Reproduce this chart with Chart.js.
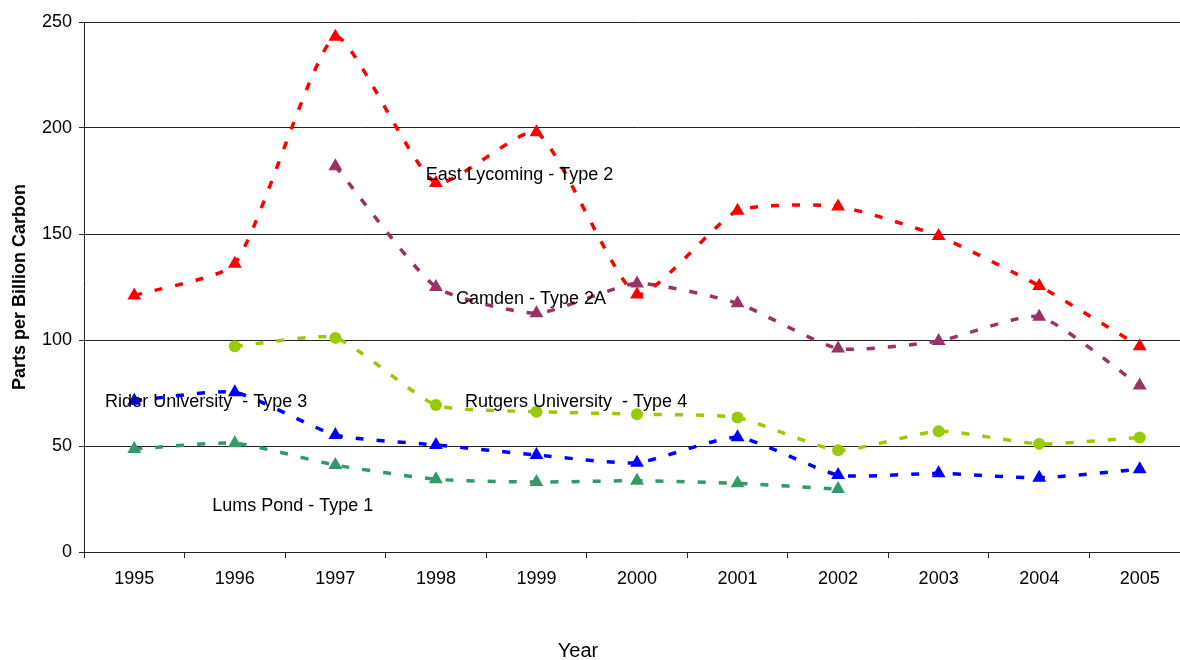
<!DOCTYPE html>
<html>
<head>
<meta charset="utf-8">
<script src="https://cdn.jsdelivr.net/npm/chart.js@4/dist/chart.umd.min.js"></script>
<style>
  html, body { margin: 0; padding: 0; background: #fff; overflow: hidden; }
  #chart { display: block; }
</style>
</head>
<body>
<canvas id="chart" width="1198" height="660"></canvas>
<script>
// values (ppbC)
const years = ['1995', '1996', '1997', '1998', '1999', '2000', '2001', '2002', '2003', '2004', '2005'];
const eastLycoming = [121, 136, 243, 174, 198, 121.5, 161, 163, 149, 125.5, 97];
const camden = [null, null, 182, 125, 112.6, 126.7, 117.3, 96, 99.5, 111, 78.5];
const rutgers = [null, 97, 101, 69.3, 66.2, 65, 63.4, 48, 57, 51, 54];
const rider = [71.4, 75.3, 55.2, 50.5, 45.8, 42.1, 54.1, 36.3, 37.1, 35, 39];
const lumsPond = [48.6, 51.3, 41, 34.3, 33, 33.6, 32.4, 29.7, null, null, null];
const yTicks = [0, 50, 100, 150, 200, 250];

// in-chart series labels, placed in data space (category index, value)
const seriesLabels = [
    { text: 'East Lycoming - Type 2', at: 2.9, value: 178 },
    { text: 'Camden - Type 2A', at: 3.2, value: 119.3 },
    { text: 'Rutgers University  - Type 4', at: 3.29, value: 70.9 },
    { text: 'Rider University  - Type 3', at: -0.29, value: 70.9 },
    { text: 'Lums Pond - Type 1', at: 0.775, value: 21.7 }
];

const FONT = '"Liberation Sans", Arial, sans-serif';

function series(label, data, color, style, radius) {
    return {
        label: label,
        data: data,
        borderColor: color,
        backgroundColor: color,
        borderWidth: 3.5,
        borderDash: [8, 13],
        borderCapStyle: 'butt',
        pointStyle: style,
        pointRadius: radius,
        pointBorderWidth: 0,
        tension: 0.18,
        fill: false
    };
}

const labelPlugin = {
    id: 'seriesLabels',
    afterDatasetsDraw(chart) {
        const ctx = chart.ctx;
        const x = chart.scales.x;
        const y = chart.scales.y;
        ctx.save();
        ctx.font = '18px ' + FONT;
        ctx.fillStyle = '#000';
        ctx.textAlign = 'left';
        ctx.textBaseline = 'middle';
        seriesLabels.forEach(function (l) {
            ctx.fillText(l.text, x.getPixelForValue(l.at), y.getPixelForValue(l.value));
        });
        // x axis title sits a bit left of the plot centre, as in the original
        ctx.font = '20px ' + FONT;
        ctx.textAlign = 'center';
        ctx.fillText('Year', 578, 651);
        ctx.restore();
    }
};

const ctx = document.getElementById('chart').getContext('2d');
new Chart(ctx, {
    type: 'line',
    data: {
        labels: years,
        datasets: [
            series('East Lycoming - Type 2', eastLycoming, '#FF0000', 'triangle', 8),
            series('Camden - Type 2A', camden, '#993366', 'triangle', 8),
            series('Rutgers University - Type 4', rutgers, '#99CC00', 'circle', 6),
            series('Rider University - Type 3', rider, '#0000FF', 'triangle', 8),
            series('Lums Pond - Type 1', lumsPond, '#339966', 'triangle', 8)
        ]
    },
    options: {
        responsive: false,
        animation: false,
        devicePixelRatio: 1,
        layout: { padding: { top: 22, right: 0, bottom: 0, left: 0 } },
        plugins: {
            legend: { display: false },
            tooltip: { enabled: false }
        },
        scales: {
            x: {
                type: 'category',
                offset: true,
                grid: {
                    offset: true,
                    drawOnChartArea: false,
                    drawTicks: true,
                    tickLength: 6,
                    color: '#222'
                },
                border: { color: '#222', width: 1 },
                ticks: {
                    color: '#000',
                    font: { family: FONT, size: 18 },
                    padding: 10,
                    maxRotation: 0,
                    autoSkip: false
                },
                afterFit(scale) { scale.height = 108; }
            },
            y: {
                min: 0,
                max: 250,
                afterBuildTicks(scale) {
                    scale.ticks = yTicks.map(v => ({ value: v }));
                },
                grid: {
                    color: '#222',
                    tickLength: 5,
                    drawTicks: true
                },
                border: { color: '#222', width: 1 },
                ticks: {
                    color: '#000',
                    font: { family: FONT, size: 18 },
                    padding: 7
                },
                title: {
                    display: true,
                    text: 'Parts per Billion Carbon',
                    color: '#000',
                    font: { family: FONT, size: 18, weight: 'bold' },
                    padding: { top: 9, bottom: 0 }
                },
                afterFit(scale) { scale.width = 84; }
            }
        }
    },
    plugins: [labelPlugin]
});
</script>
</body>
</html>
